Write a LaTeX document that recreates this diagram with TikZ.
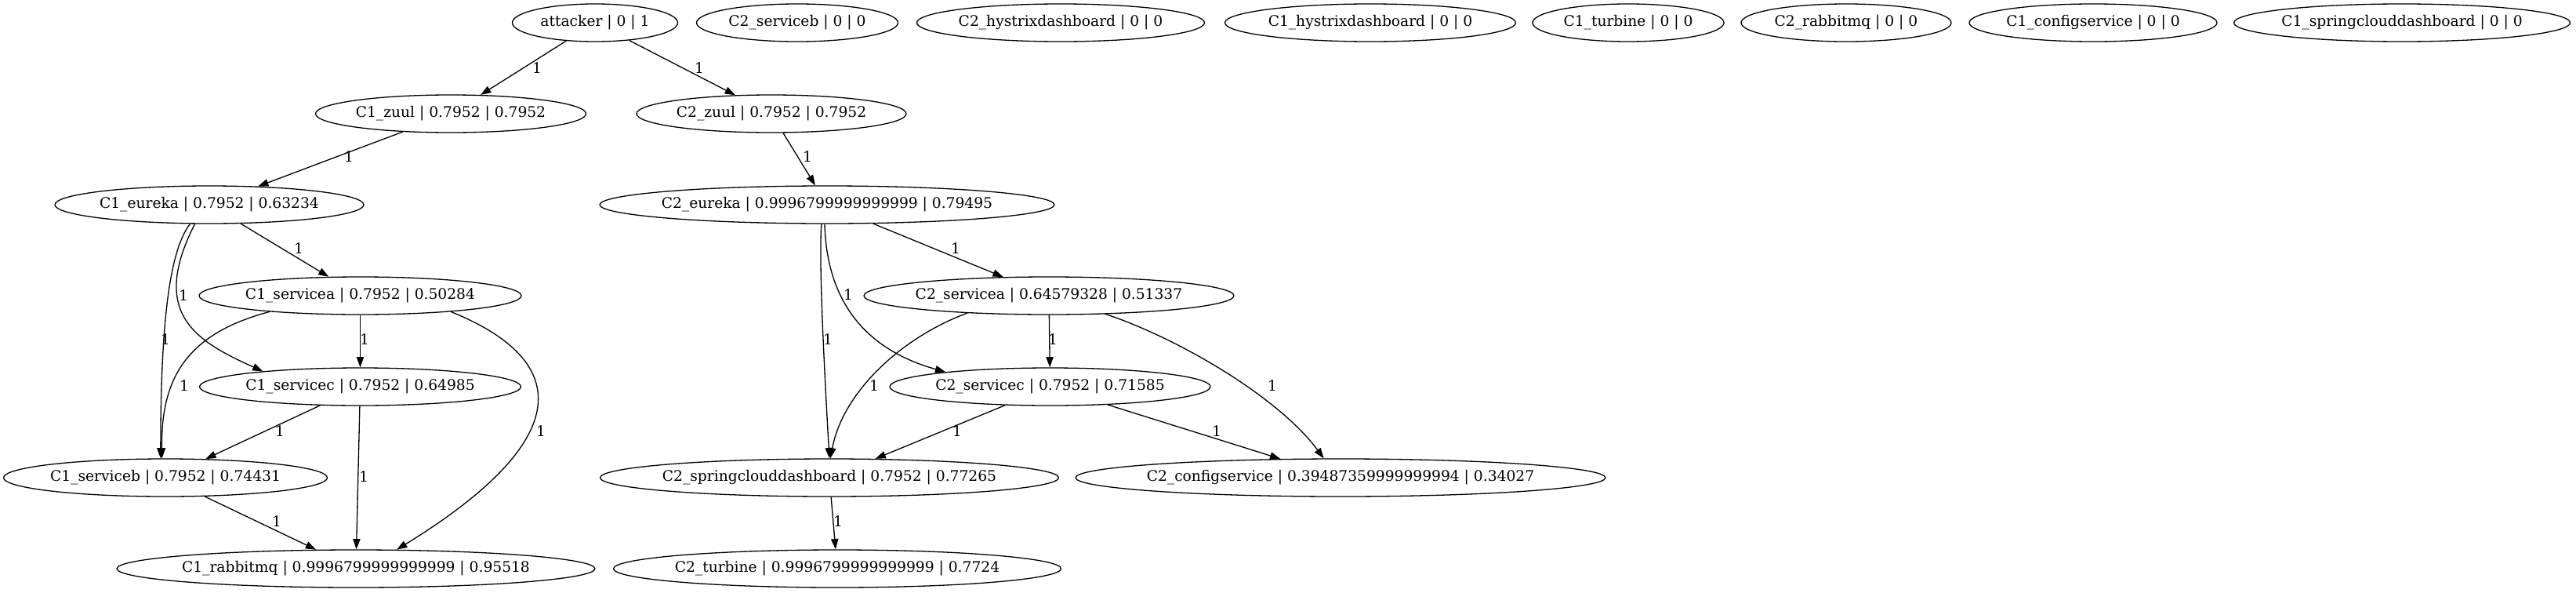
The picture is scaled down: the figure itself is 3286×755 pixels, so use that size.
\documentclass[tikz,border=0pt]{standalone}
\usepackage{fontspec}
\setmainfont{DejaVu Serif}
\usetikzlibrary{arrows.meta,shapes.geometric}
\tikzset{
	gnode/.style={draw,ellipse,line width=1.3pt,minimum height=48pt,inner sep=0pt},
	elabel/.style={inner sep=0pt},
	gedge/.style={-{Triangle[length=13.3pt,width=9.3pt]},line width=1.3pt}
}
\begin{document}
\begin{tikzpicture}[x=1pt,y=-1pt,line join=round,font=\fontsize{18.67pt}{22pt}\selectfont]
		\useasboundingbox (0,0) rectangle (3286,755);
		% rank 0
		\node[gnode,minimum width=211pt,label=center:{attacker | 0 | 1}] (attacker) at (759,29) {};
		\node[gnode,minimum width=257pt,label=center:{C2\_serviceb | 0 | 0}] (c2serviceb) at (1017,29) {};
		\node[gnode,minimum width=367pt,label=center:{C2\_hystrixdashboard | 0 | 0}] (c2hystrix) at (1353,29) {};
		\node[gnode,minimum width=371pt,label=center:{C1\_hystrixdashboard | 0 | 0}] (c1hystrix) at (1748,29) {};
		\node[gnode,minimum width=244pt,label=center:{C1\_turbine | 0 | 0}] (c1turbine) at (2077,29) {};
		\node[gnode,minimum width=268pt,label=center:{C2\_rabbitmq | 0 | 0}] (c2rabbitmq) at (2355,29) {};
		\node[gnode,minimum width=316pt,label=center:{C1\_configservice | 0 | 0}] (c1config) at (2670,29) {};
		\node[gnode,minimum width=429pt,label=center:{C1\_springclouddashboard | 0 | 0}] (c1spring) at (3064,29) {};
		% ranks 1-6
		\node[gnode,minimum width=345pt,label=center:{C1\_zuul | 0.7952 | 0.7952}] (c1zuul) at (575,145) {};
		\node[gnode,minimum width=344pt,label=center:{C2\_zuul | 0.7952 | 0.7952}] (c2zuul) at (984,145) {};
		\node[gnode,minimum width=394pt,label=center:{C1\_eureka | 0.7952 | 0.63234}] (c1eureka) at (267,261) {};
		\node[gnode,minimum width=580pt,label=center:{C2\_eureka | 0.9996799999999999 | 0.79495}] (c2eureka) at (1055,261) {};
		\node[gnode,minimum width=411pt,label=center:{C1\_servicea | 0.7952 | 0.50284}] (c1servicea) at (459.5,377) {};
		\node[gnode,minimum width=472pt,label=center:{C2\_servicea | 0.64579328 | 0.51337}] (c2servicea) at (1338,377) {};
		\node[gnode,minimum width=410pt,label=center:{C1\_servicec | 0.7952 | 0.64985}] (c1servicec) at (459.5,493) {};
		\node[gnode,minimum width=409pt,label=center:{C2\_servicec | 0.7952 | 0.71585}] (c2servicec) at (1339.5,493) {};
		\node[gnode,minimum width=413pt,label=center:{C1\_serviceb | 0.7952 | 0.74431}] (c1serviceb) at (211,609) {};
		\node[gnode,minimum width=585pt,label=center:{C2\_springclouddashboard | 0.7952 | 0.77265}] (c2spring) at (1058,609) {};
		\node[gnode,minimum width=676pt,label=center:{C2\_configservice | 0.39487359999999994 | 0.34027}] (c2config) at (1710,609) {};
		\node[gnode,minimum width=610pt,label=center:{C1\_rabbitmq | 0.9996799999999999 | 0.95518}] (c1rabbitmq) at (454,725) {};
		\node[gnode,minimum width=571pt,label=center:{C2\_turbine | 0.9996799999999999 | 0.7724}] (c2turbine) at (1068,725) {};
		% straight edges
		\draw[gedge] (attacker) -- (c1zuul);
		\draw[gedge] (attacker) -- (c2zuul);
		\draw[gedge] (c1zuul) -- (c1eureka);
		\draw[gedge] (c2zuul) -- (c2eureka);
		\draw[gedge] (c1eureka) -- (c1servicea);
		\draw[gedge] (c2eureka) -- (c2servicea);
		\draw[gedge] (c1servicea) -- (c1servicec);
		\draw[gedge] (c2servicea) -- (c2servicec);
		\draw[gedge] (c1servicec) -- (c1serviceb);
		\draw[gedge] (c1servicec) -- (c1rabbitmq);
		\draw[gedge] (c1serviceb) -- (c1rabbitmq);
		\draw[gedge] (c2servicec) -- (c2spring);
		\draw[gedge] (c2servicec) -- (c2config);
		\draw[gedge] (c2spring) -- (c2turbine);
		% curved edges
		\draw[gedge] (c1eureka.225) .. controls (215,320) and (205,420) .. (c1serviceb.104);
		\draw[gedge] (c1eureka.233) .. controls (190,400) and (250,435) .. (c1servicec.171);
		\draw[gedge] (c1servicea.190) .. controls (240,425) and (205,480) .. (c1serviceb.100);
		\draw[gedge] (c1servicea.350) .. controls (730,460) and (735,560) .. (c1rabbitmq.25);
		\draw[gedge] (c2eureka.254) .. controls (1044,330) and (1052,480) .. (c2spring.north);
		\draw[gedge] (c2eureka.263) .. controls (1055,400) and (1120,450) .. (c2servicec.172);
		\draw[gedge] (c2servicea.192) .. controls (1150,430) and (1075,500) .. (c2spring.87);
		\draw[gedge] (c2servicea.342) .. controls (1500,430) and (1630,505) .. (c2config.131);
		% edge labels
		\node[elabel] (l1) at (685,87) {1};
		\node[elabel] (l2) at (892,87) {1};
		\node[elabel] (l3) at (445,200) {1};
		\node[elabel] (l4) at (1030,200) {1};
		\node[elabel] (l5) at (381,317) {1};
		\node[elabel] (l6) at (1219,317) {1};
		\node[elabel] (l7) at (234,377) {1};
		\node[elabel] (l8) at (211,433) {1};
		\node[elabel] (l9) at (465,433) {1};
		\node[elabel] (l10) at (235,492) {1};
		\node[elabel] (l11) at (690,550) {1};
		\node[elabel] (l12) at (357,550) {1};
		\node[elabel] (l13) at (464,608) {1};
		\node[elabel] (l14) at (353,665) {1};
		\node[elabel] (l15) at (1082,376) {1};
		\node[elabel] (l16) at (1056,433) {1};
		\node[elabel] (l17) at (1343,433) {1};
		\node[elabel] (l18) at (1115,492) {1};
		\node[elabel] (l19) at (1623,492) {1};
		\node[elabel] (l20) at (1221,550) {1};
		\node[elabel] (l21) at (1552,550) {1};
		\node[elabel] (l22) at (1069,665) {1};
	\end{tikzpicture}
\end{document}
